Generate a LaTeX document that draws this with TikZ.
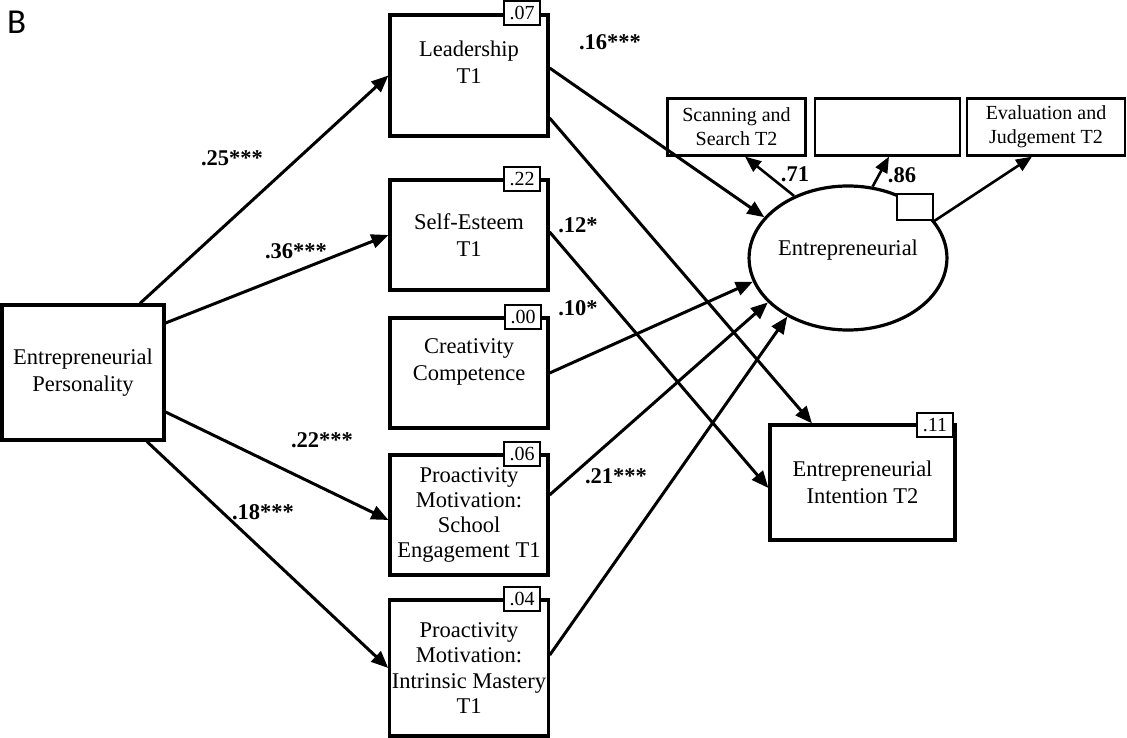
\documentclass[tikz,border=0pt]{standalone}
\usepackage{fontspec}
\setmainfont{Liberation Serif}
\newfontfamily\panelfont{Carlito}
\usetikzlibrary{arrows.meta,shapes.geometric}
\begin{document}
\begin{tikzpicture}[x=1pt,y=-1pt,
  box/.style={draw,line width=3.2pt,fill=white,align=center,inner sep=2pt,
    font=\fontsize{22.5}{27}\selectfont,minimum width=158pt},
  ind/.style={draw,line width=2.2pt,fill=white,align=center,inner sep=2pt,
    font=\fontsize{20}{24}\selectfont,minimum height=57pt},
  rsq/.style={draw,line width=2pt,fill=white,minimum width=36pt,minimum height=24pt,
    inner sep=0pt,font=\fontsize{20}{20}\selectfont},
  coef/.style={font=\bfseries\fontsize{22.5}{26}\selectfont,inner sep=0pt},
  conn/.style={line width=3pt,-{Triangle[length=17pt,width=14pt]}},
  load/.style={line width=2.6pt,-{Triangle[length=16pt,width=13pt]}},
]
\useasboundingbox (0,0) rectangle (1127,738);

% panel letter
\node[font=\panelfont\fontsize{35}{35}\selectfont,anchor=base west,inner sep=0pt] (panel) at (7,34) {B};

% predictor and mediator boxes
\node[box,minimum width=162pt,minimum height=135pt] (ep) at (83,372.5) {Entrepreneurial\\Personality};
\node[box,minimum height=121pt] (lead) at (469,75.5) {Leadership\\T1\\\phantom{T}};
\node[box,minimum height=110pt] (self) at (469,235) {Self-Esteem\\T1};
\node[box,minimum height=110pt] (crea) at (469,373) {Creativity\\Competence\\\phantom{C}};
\node[box,minimum height=120pt,font=\fontsize{22.5}{25}\selectfont] (school) at (469,515) {Proactivity\\Motivation:\\School\\Engagement T1};
\node[box,minimum height=136pt,font=\fontsize{22.5}{25.5}\selectfont] (intr) at (469,668) {Proactivity\\Motivation:\\Intrinsic Mastery\\T1};
\node[box,minimum width=185pt,minimum height=115pt] (int2) at (862.5,482.5) {Entrepreneurial\\Intention T2};

% latent outcome with its indicators
\node[draw,ellipse,line width=3.2pt,minimum width=196pt,minimum height=144pt,inner sep=0pt,
  align=center,font=\fontsize{22.5}{12}\selectfont] (ell) at (848,258) {Entrepreneurial\\\phantom{E}};
\node[draw,line width=2.2pt,fill=white,minimum width=36pt,minimum height=26pt,inner sep=0pt] (res) at (915,207) {};
\node[ind,minimum width=138pt] (scan) at (736.5,127) {Scanning and\\Search T2};
\node[ind,minimum width=145pt] (mid) at (887.5,127) {};
\node[ind,minimum width=158pt] (eval) at (1046,127) {Evaluation and\\Judgement T2};

% explained variance
\node[rsq] (rlead) at (522,13) {.07};
\node[rsq] (rself) at (522,179) {.22};
\node[rsq] (rcrea) at (523,317) {.00};
\node[rsq] (rschool) at (522,454) {.06};
\node[rsq] (rintr) at (522,599) {.04};
\node[rsq] (rint2) at (935,425) {.11};

% paths from personality
\draw[conn] ([xshift=57pt]ep.north) -- (lead.west);
\draw[conn] ([yshift=49.5pt]ep.east) -- (self.west);
\draw[conn] ([yshift=-39.5pt]ep.east) -- ([yshift=-5pt]school.west);
\draw[conn] ([xshift=64pt]ep.south) -- (intr.west);

% paths to outcomes
\draw[conn] ([yshift=7.5pt]lead.east) -- (ell.154);
\draw[conn] ([yshift=-42.5pt]lead.east) -- ([xshift=-50.5pt]int2.north);
\draw[conn] ([yshift=3pt]self.east) -- ([yshift=-5.5pt]int2.west);
\draw[conn] (crea.east) -- (ell.194);
\draw[conn] ([yshift=20pt]school.east) -- (ell.209);
\draw[conn] ([yshift=13pt]intr.east) -- (ell.224.5);

% loadings
\draw[load] (ell.131.2) -- ([xshift=8.5pt]scan.south);
\draw[load] (ell.71) -- ([xshift=1.5pt]mid.south);
\draw[load] (res.south east) -- ([xshift=-14pt]eval.south);

% coefficients
\node[coef] (c25) at (232,158) {.25***};
\node[coef] (c36) at (296,251) {.36***};
\node[coef] (c22) at (322,440) {.22***};
\node[coef] (c18) at (263,512) {.18***};
\node[coef] (c16) at (610,42) {.16***};
\node[coef] (c12) at (578,225) {.12*};
\node[coef] (c10) at (578,308) {.10*};
\node[coef] (c21) at (616,476) {.21***};
\node[coef] (c71) at (795,174) {.71};
\node[coef] (c86) at (902,175) {.86};
\end{tikzpicture}
\end{document}
